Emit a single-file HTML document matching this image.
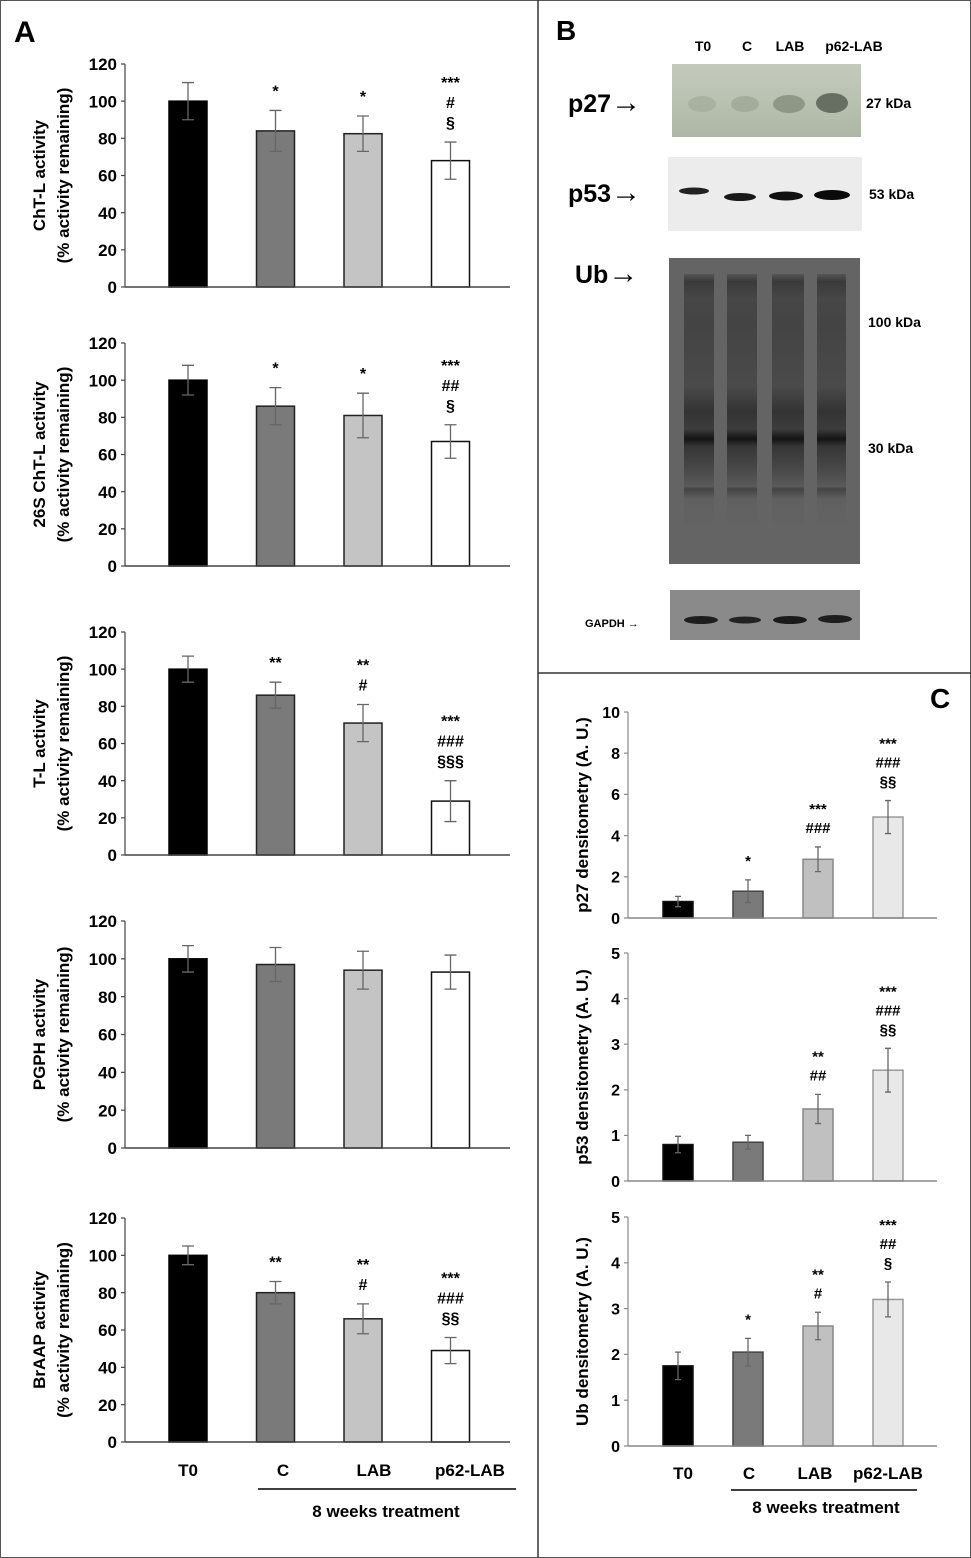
<!DOCTYPE html>
<html><head><meta charset="utf-8">
<style>
html,body{margin:0;padding:0;background:#fff;}
svg{display:block;font-family:"Liberation Sans",Arial,sans-serif;font-weight:bold;}
</style></head>
<body>
<svg id="fig" width="971" height="1558" viewBox="0 0 971 1558" xmlns="http://www.w3.org/2000/svg">
<defs>
<linearGradient id="p27g" x1="0" x2="0" y1="0" y2="1"><stop offset="0" stop-color="#c4cbbd"/><stop offset="1" stop-color="#aeb7a6"/></linearGradient>
<linearGradient id="ublane" x1="0" x2="0" y1="0" y2="1">
<stop offset="0" stop-color="#555"/><stop offset="0.03" stop-color="#3a3a3a"/><stop offset="0.1" stop-color="#474747"/>
<stop offset="0.2" stop-color="#444"/><stop offset="0.45" stop-color="#4a4a4a"/><stop offset="0.55" stop-color="#333"/>
<stop offset="0.62" stop-color="#3c3c3c"/><stop offset="0.66" stop-color="#141414"/><stop offset="0.69" stop-color="#363636"/>
<stop offset="0.78" stop-color="#484848"/><stop offset="0.85" stop-color="#5a5a5a"/><stop offset="0.86" stop-color="#444"/><stop offset="0.9" stop-color="#606060"/><stop offset="1" stop-color="#636363"/></linearGradient>
</defs>
<rect x="0.5" y="0.5" width="970" height="1557" fill="#fff" stroke="#555"/>
<line x1="538" y1="0" x2="538" y2="1558" stroke="#333" stroke-width="1.5"/>
<line x1="538" y1="673" x2="971" y2="673" stroke="#333" stroke-width="1.5"/>
<text x="14" y="42" font-size="30">A</text>
<text x="556" y="40" font-size="28">B</text>
<text x="930" y="708" font-size="28">C</text>

<g>
<text x="703" y="51" font-size="14" text-anchor="middle">T0</text>
<text x="747" y="51" font-size="14" text-anchor="middle">C</text>
<text x="790" y="51" font-size="14" text-anchor="middle">LAB</text>
<text x="854" y="51" font-size="14" text-anchor="middle">p62-LAB</text>

<text x="568" y="112" font-size="25">p27<tspan font-size="30">→</tspan></text>
<rect x="672" y="64" width="189" height="73" fill="url(#p27g)"/>
<ellipse cx="702" cy="104" rx="14" ry="8" fill="#9ea695" opacity="0.6"/>
<ellipse cx="745" cy="104" rx="14" ry="8" fill="#9ba392" opacity="0.7"/>
<ellipse cx="789" cy="104" rx="16" ry="9" fill="#848c7c" opacity="0.8"/>
<ellipse cx="832" cy="103" rx="16" ry="10" fill="#5e665a" opacity="0.9"/>
<text x="866" y="108" font-size="14">27 kDa</text>

<text x="568" y="202" font-size="25">p53<tspan font-size="30">→</tspan></text>
<rect x="668" y="157" width="194" height="74" fill="#ececec"/>
<ellipse cx="694" cy="191" rx="15" ry="3.5" fill="#222"/>
<ellipse cx="740" cy="197" rx="16" ry="4" fill="#1a1a1a"/>
<ellipse cx="786" cy="196" rx="17" ry="4.5" fill="#111"/>
<ellipse cx="832" cy="195" rx="18" ry="5" fill="#0a0a0a"/>
<text x="869" y="199" font-size="14">53 kDa</text>

<text x="575" y="283" font-size="25">Ub<tspan font-size="30">→</tspan></text>
<rect x="669" y="258" width="191" height="306" fill="#646464"/>
<rect x="684" y="274" width="30" height="250" fill="url(#ublane)"/>
<rect x="727" y="274" width="30" height="250" fill="url(#ublane)"/>
<rect x="772" y="274" width="32" height="250" fill="url(#ublane)"/>
<rect x="817" y="274" width="29" height="250" fill="url(#ublane)"/>
<text x="868" y="327" font-size="14">100 kDa</text>
<text x="868" y="453" font-size="14">30 kDa</text>

<text x="585" y="627" font-size="11">GAPDH →</text>
<rect x="670" y="590" width="190" height="50" fill="#8a8a8a"/>
<ellipse cx="701" cy="620" rx="17" ry="4" fill="#1e1e1e"/>
<ellipse cx="745" cy="620" rx="16" ry="3.5" fill="#222"/>
<ellipse cx="790" cy="620" rx="17" ry="4" fill="#1a1a1a"/>
<ellipse cx="835" cy="619" rx="17" ry="4" fill="#1e1e1e"/>
</g>
<g id="charts"></g>
</svg>
<script>
const categories = ["T0", "C", "LAB", "p62-LAB"];
const chtlValues = [100, 84, 82.5, 68];
const chtlErrors = [10, 11, 9.5, 10];
const chtlAnnot = [[], ["*"], ["*"], ["***", "#", "§"]];
const s26Values = [100, 86, 81, 67];
const s26Errors = [8, 10, 12, 9];
const s26Annot = [[], ["*"], ["*"], ["***", "##", "§"]];
const tlValues = [100, 86, 71, 29];
const tlErrors = [7, 7, 10, 11];
const tlAnnot = [[], ["**"], ["**", "#"], ["***", "###", "§§§"]];
const pgphValues = [100, 97, 94, 93];
const pgphErrors = [7, 9, 10, 9];
const pgphAnnot = [[], [], [], []];
const braapValues = [100, 80, 66, 49];
const braapErrors = [5, 6, 8, 7];
const braapAnnot = [[], ["**"], ["**", "#"], ["***", "###", "§§"]];
const aTicks = [0, 20, 40, 60, 80, 100, 120];

const p27Values = [0.8, 1.3, 2.85, 4.9];
const p27Errors = [0.25, 0.55, 0.6, 0.8];
const p27Annot = [[], ["*"], ["***", "###"], ["***", "###", "§§"]];
const p27Ticks = [0, 2, 4, 6, 8, 10];
const p53Values = [0.8, 0.85, 1.58, 2.43];
const p53Errors = [0.18, 0.15, 0.32, 0.48];
const p53Annot = [[], [], ["**", "##"], ["***", "###", "§§"]];
const ubValues = [1.75, 2.05, 2.62, 3.2];
const ubErrors = [0.3, 0.3, 0.3, 0.38];
const ubAnnot = [[], ["*"], ["**", "#"], ["***", "##", "§"]];
const cTicks = [0, 1, 2, 3, 4, 5];

const NS = "http://www.w3.org/2000/svg";
const root = document.getElementById("charts");
function mk(tag, attrs, parent) {
  const e = document.createElementNS(NS, tag);
  for (const k in attrs) e.setAttribute(k, attrs[k]);
  (parent || root).appendChild(e);
  return e;
}

function drawChart(o) {
  const g = mk("g", {});
  
  
  const yScale = v => o.y0 - (v - o.ticks[0]) / (o.ticks[o.ticks.length - 1] - o.ticks[0]) * (o.y0 - o.yTop);
  const xCenter = i => o.x0 + o.firstCenter + i * o.step;
  const ya = mk("line", {x1: o.ax, y1: o.yTop, x2: o.ax, y2: o.y0, stroke: o.axisColor, "stroke-width": 1.2}, g);
  
  
  o.ticks.forEach(t => {
    const y = yScale(t);
    mk("line", {x1: o.ax - 4, y1: y, x2: o.ax, y2: y, stroke: o.axisColor, "stroke-width": 1.2}, g);
    const tl = mk("text", {x: o.ax - 8, y: y + o.tickFont * 0.36, "font-size": o.tickFont, "text-anchor": "end"}, g);
    tl.textContent = t;
    
    
  });
  o.title.forEach((line, k) => {
    const tx = o.titleX + k * 24;
    const ty = (o.yTop + o.y0) / 2;
    const tt = mk("text", {x: tx, y: ty, "font-size": o.titleFont, "text-anchor": "middle", transform: `rotate(-90 ${tx} ${ty})`}, g);
    tt.textContent = line;
    
    
  });
  o.values.forEach((v, i) => {
    const cx = xCenter(i);
    const y = yScale(v);
    const b = mk("rect", {x: cx - o.bw / 2, y: y, width: o.bw, height: o.y0 - y, fill: o.fills[i], stroke: o.strokes[i], "stroke-width": 1.5}, g);
    
    
    const e = o.errors[i];
    const yt = yScale(v + e), yb = yScale(v - e);
    const eb = mk("path", {d: `M${cx} ${yt}V${yb}M${cx - o.cap} ${yt}H${cx + o.cap}M${cx - o.cap} ${yb}H${cx + o.cap}`, stroke: "#666", "stroke-width": 1.3, fill: "none"}, g);
    
    
    const ann = o.annot[i];
    ann.forEach((s, k) => {
      const ay = yt - 14 - (ann.length - 1 - k) * o.annStep;
      const at = mk("text", {x: cx, y: ay, "font-size": o.annFont, "text-anchor": "middle"}, g);
      at.textContent = s;
      
      
    });
  });
  const xa = mk("line", {x1: o.ax, y1: o.y0, x2: o.axEnd, y2: o.y0, stroke: o.axisColor, "stroke-width": 1.5}, g);
  
  
  if (o.xlabels) {
    categories.forEach((c, i) => {
      const xl = mk("text", {x: o.xlabels.xs[i], y: o.xlabels.y, "font-size": 17, "text-anchor": "middle"}, g);
      xl.textContent = c;
      
      
    });
    mk("line", {x1: o.xlabels.l1, y1: o.xlabels.ly, x2: o.xlabels.l2, y2: o.xlabels.ly, stroke: "#000", "stroke-width": 1.5}, g);
    const wt = mk("text", {x: o.xlabels.wx, y: o.xlabels.wy, "font-size": 17, "text-anchor": "middle"}, g);
    wt.textContent = "8 weeks treatment";
    
    
  }
}

const aFills = ["#000", "#7a7a7a", "#c4c4c4", "#fff"];
const aStrokes = ["#000", "#222", "#222", "#111"];
const aBase = {x0: 0, ax: 125, axEnd: 510, firstCenter: 188, step: 87.5, bw: 38, cap: 6, ticks: aTicks,
  tickFont: 17, titleFont: 17, titleX: 45, annFont: 16, annStep: 20, fills: aFills, strokes: aStrokes, axisColor: "#444"};
const aSpecs = [
  {name: "chtl-chart", yTop: 64, y0: 287, values: chtlValues, errors: chtlErrors, annot: chtlAnnot, title: ["ChT-L activity", "(% activity remaining)"]},
  {name: "26s-chtl-chart", yTop: 343, y0: 566, values: s26Values, errors: s26Errors, annot: s26Annot, title: ["26S ChT-L activity", "(% activity remaining)"]},
  {name: "tl-chart", yTop: 632, y0: 855, values: tlValues, errors: tlErrors, annot: tlAnnot, title: ["T-L activity", "(% activity remaining)"]},
  {name: "pgph-chart", yTop: 921, y0: 1148, values: pgphValues, errors: pgphErrors, annot: pgphAnnot, title: ["PGPH activity", "(% activity remaining)"]},
  {name: "braap-chart", yTop: 1218, y0: 1442, values: braapValues, errors: braapErrors, annot: braapAnnot, title: ["BrAAP activity", "(% activity remaining)"],
   xlabels: {xs: [188, 283, 374, 470], y: 1476, l1: 258, l2: 516, ly: 1489, wx: 386, wy: 1517}}
];
aSpecs.forEach(s => drawChart(Object.assign({}, aBase, s)));

const cFills = ["#000", "#7a7a7a", "#c0c0c0", "#e8e8e8"];
const cStrokes = ["#111", "#444", "#888", "#999"];
const cBase = {x0: 0, ax: 628, axEnd: 937, firstCenter: 678, step: 70, bw: 30, cap: 3,
  tickFont: 16, titleFont: 17, titleX: 588, annFont: 15, annStep: 19, fills: cFills, strokes: cStrokes, axisColor: "#888"};
const cSpecs = [
  {name: "p27-densitometry-chart", yTop: 712, y0: 918, ticks: p27Ticks, values: p27Values, errors: p27Errors, annot: p27Annot, title: ["p27 densitometry (A. U.)"]},
  {name: "p53-densitometry-chart", yTop: 953, y0: 1181, ticks: cTicks, values: p53Values, errors: p53Errors, annot: p53Annot, title: ["p53 densitometry (A. U.)"]},
  {name: "ub-densitometry-chart", yTop: 1217, y0: 1446, ticks: cTicks, values: ubValues, errors: ubErrors, annot: ubAnnot, title: ["Ub densitometry (A. U.)"],
   xlabels: {xs: [683, 749, 815, 888], y: 1479, l1: 731, l2: 917, ly: 1490, wx: 826, wy: 1513}}
];
cSpecs.forEach(s => drawChart(Object.assign({}, cBase, s)));
</script>
</body></html>
